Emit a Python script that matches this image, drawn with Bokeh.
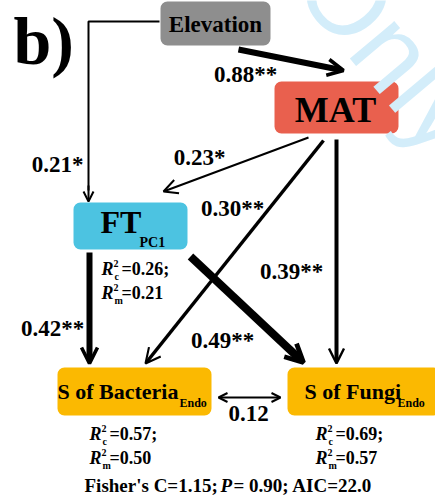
from bokeh.plotting import figure
from bokeh.models import Range1d, BoxAnnotation, Arrow, OpenHead
from bokeh.core.properties import value
from bokeh.embed import file_html
from bokeh.resources import INLINE

# ---- data ----
node_names = ["Elevation", "MAT", "FT", "S of Bacteria", "S of Fungi"]
node_subs = ["", "", "PC1", "Endo", "Endo"]
node_colors = ["#8e8e8e", "#e9604e", "#4cc3e1", "#fbb901", "#fbb901"]

path_labels = ["0.88**", "0.21*", "0.23*", "0.30**", "0.39**", "0.42**", "0.49**", "0.12"]
r2c_values = ["=0.26;", "=0.57;", "=0.69;"]
r2m_values = ["=0.21", "=0.50", "=0.57"]
fit_text = ["Fisher's C=1.15;", "P", "= 0.90; AIC=22.0"]

FONT = value("Liberation Serif")

p = figure(width=435, height=499, x_range=Range1d(0, 435), y_range=Range1d(499, 0),
           output_backend="svg", toolbar_location=None, min_border=0)
p.axis.visible = False
p.grid.visible = False
p.outline_line_color = None
p.background_fill_color = "white"
p.border_fill_color = "white"

# watermark
p.text(x=[319], y=[-38], text=["Only"], text_font=value("Liberation Sans"),
       text_font_size="110px", text_color="#d3edfa", angle=-50, angle_units="deg",
       text_align="left", text_baseline="middle")

# boxes: left, right, top, bottom
boxes = [(160, 270, 1, 45), (274, 398, 81, 133), (73, 187, 202, 249),
         (57, 211, 367, 415), (287, 440, 367, 415)]
for (l, r, t, b), c in zip(boxes, node_colors):
    p.add_layout(BoxAnnotation(left=l, right=r, top=t, bottom=b, fill_color=c,
                               fill_alpha=1, line_color=None, border_radius=7, level="underlay"))

def txt(x, y, s, size, style="bold", align="left"):
    p.text(x=[x], y=[y], text=[s], text_font=FONT, text_font_style=style,
           text_font_size=f"{size}px", text_color="black", text_align=align,
           text_baseline="middle")

# panel letter
txt(13, 40, "b)", 68)

# node texts
txt(215, 24, node_names[0], 23, align="center")
txt(335, 109, node_names[1], 36, align="center")
txt(100, 221, node_names[2], 32)
txt(139, 242, node_subs[2], 14)
txt(57, 391, node_names[3], 22)
txt(179, 402, node_subs[3], 12)
txt(304, 391, node_names[4], 22)
txt(397, 402, node_subs[4], 12)

# arrows
def arrow(x0, y0, x1, y1, w, hs, start=False):
    a = Arrow(x_start=x0, y_start=y0, x_end=x1, y_end=y1, line_width=w, line_color="black",
              end=OpenHead(size=hs, line_width=max(2, w * 0.6), line_color="black"))
    if start:
        a.start = OpenHead(size=hs, line_width=max(2, w * 0.6), line_color="black")
    p.add_layout(a)

p.line([159, 88, 88], [21, 21, 190], line_width=2, line_color="black")
arrow(88, 185, 88, 201, 2, 10)
arrow(238, 49, 343, 70, 6, 16)
arrow(308, 137, 163, 191, 2, 14)
arrow(323, 140, 145, 363, 3.5, 15)
arrow(336, 139, 336, 363, 4, 15)
arrow(89, 252, 89, 363, 6, 16)
arrow(190, 256, 303, 362, 8, 18)
arrow(218, 397, 280, 397, 2, 9, start=True)

# path coefficient labels
lab_pos = [(245, 74), (57, 164), (199, 157), (232, 208), (291, 271), (52, 328), (222, 340), (248, 413)]
for (x, y), s in zip(lab_pos, path_labels):
    txt(x, y, s, 23, align="center")

# R2 blocks (x of R, y centre of first line)
r2_pos = [(101, 268), (89, 433), (315, 433)]
for (x, y), c, m in zip(r2_pos, r2c_values, r2m_values):
    for dy, sub, val in [(0, "c", c), (24, "m", m)]:
        txt(x, y + dy, "R", 18, style="bold italic")
        txt(x + 12, y + dy - 5, "2", 10)
        txt(x + 13, y + dy + 8, sub, 10)
        txt(x + 20, y + dy, val, 18)

# fit statistics
txt(84, 485, fit_text[0], 19)
txt(220, 485, fit_text[1], 19, style="bold italic")
txt(233, 485, fit_text[2], 19)

open("out.html", "w").write(file_html(p, INLINE))
